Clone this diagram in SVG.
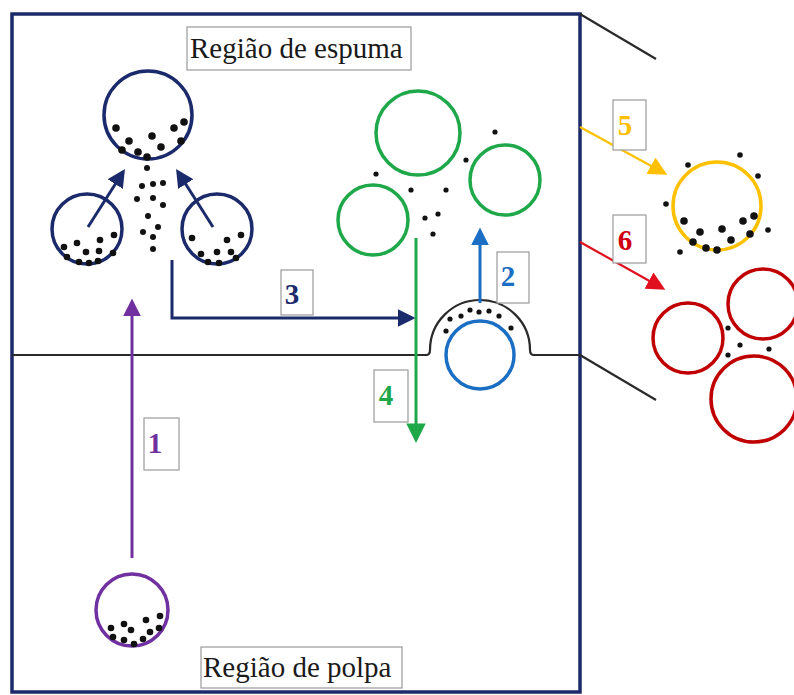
<svg xmlns="http://www.w3.org/2000/svg" width="794" height="695" viewBox="0 0 794 695">
  <style>
    .frame { fill: none; stroke: #1b2a6b; stroke-width: 3.5; }
    .line { fill: none; stroke: #2a2a2a; stroke-width: 2.2; }
    .bub { fill: none; stroke-width: 3.5; }
    .dot { fill: #111; }
    .lbl { fill: #fff; stroke: #9a9a9a; stroke-width: 1.2; }
    .title { font-family: "Liberation Serif", "Times New Roman", serif; font-size: 29px; fill: #1a1a1a; }
    .num { font-family: "Liberation Serif", "Times New Roman", serif; font-size: 29px; font-weight: bold; text-anchor: middle; }
    .arr { fill: none; stroke-width: 3; }
  </style>
  <defs>
    <marker id="hNavy" viewBox="0 0 10 10" refX="8" refY="5" markerWidth="6" markerHeight="6" orient="auto"><path d="M0,0 L10,5 L0,10 z" fill="#1b2a6b"/></marker>
    <marker id="hBlue" viewBox="0 0 10 10" refX="8" refY="5" markerWidth="6" markerHeight="6" orient="auto"><path d="M0,0 L10,5 L0,10 z" fill="#1a6fc4"/></marker>
    <marker id="hGreen" viewBox="0 0 10 10" refX="8" refY="5" markerWidth="6.5" markerHeight="6.5" orient="auto"><path d="M0,0 L10,5 L0,10 z" fill="#1fa84a"/></marker>
    <marker id="hPurple" viewBox="0 0 10 10" refX="8" refY="5" markerWidth="6" markerHeight="6" orient="auto"><path d="M0,0 L10,5 L0,10 z" fill="#7030a0"/></marker>
    <marker id="hGold" viewBox="0 0 10 10" refX="8" refY="5" markerWidth="8.5" markerHeight="8.5" orient="auto"><path d="M0,0 L10,5 L0,10 z" fill="#ffc000"/></marker>
    <marker id="hRed" viewBox="0 0 10 10" refX="8" refY="5" markerWidth="8.5" markerHeight="8.5" orient="auto"><path d="M0,0 L10,5 L0,10 z" fill="#e0101e"/></marker>
  </defs>

  <rect width="794" height="695" fill="#fff"/>

  <!-- cell frame, froth/pulp interface and zoom guides -->
  <g id="cell">
    <rect class="frame" x="12" y="14" width="568" height="678"/>
    <path class="line" d="M12,355 H426 Q430,355 430,350 A50,50 0 0 1 530,350 Q530,355 534,355 H580"/>
    <line class="line" x1="580" y1="14" x2="656" y2="59"/>
    <line class="line" x1="580" y1="355" x2="656" y2="400"/>
  </g>

  <g id="label-espuma">
    <rect class="lbl" x="187" y="27" width="224" height="43"/>
    <text class="title" x="190" y="58">Região de espuma</text>
  </g>
  <g id="label-polpa">
    <rect class="lbl" x="201" y="647" width="201" height="41"/>
    <text class="title" x="203" y="677">Região de polpa</text>
  </g>

  <!-- particle-laden bubble rising from pulp -->
  <g id="bubble-pulp">
    <circle class="bub" cx="132" cy="610" r="36" stroke="#7030a0"/>
    <g class="dot">
      <circle cx="111" cy="628" r="3.3"/><circle cx="124" cy="624" r="3.3"/><circle cx="131" cy="630" r="3.3"/>
      <circle cx="146" cy="620" r="3.3"/><circle cx="160" cy="616" r="3.3"/><circle cx="150" cy="632" r="3.3"/>
      <circle cx="113" cy="637" r="3.3"/><circle cx="124" cy="640" r="3.3"/><circle cx="134" cy="644" r="3.3"/>
      <circle cx="143" cy="639" r="3.3"/><circle cx="159" cy="628" r="3.3"/>
    </g>
  </g>

  <!-- coalescing bubbles in the froth -->
  <g id="bubbles-coalescence">
    <circle class="bub" cx="148" cy="115" r="44" stroke="#1b2a6b"/>
    <circle class="bub" cx="87" cy="229" r="35" stroke="#1b2a6b"/>
    <circle class="bub" cx="217" cy="229" r="35" stroke="#1b2a6b"/>
    <g class="dot">
      <circle cx="116" cy="128" r="3.8"/><circle cx="129" cy="141" r="3.8"/><circle cx="152" cy="136" r="3.8"/>
      <circle cx="174" cy="128" r="3.8"/><circle cx="184" cy="122" r="3.8"/><circle cx="181" cy="141" r="3.8"/>
      <circle cx="161" cy="147" r="3.8"/><circle cx="122" cy="150" r="3.8"/><circle cx="138" cy="152" r="3.8"/>
      <circle cx="147" cy="157" r="3.8"/>
      <circle cx="147" cy="168" r="3"/><circle cx="142" cy="186" r="3"/><circle cx="153" cy="184" r="3"/>
      <circle cx="163" cy="183" r="3"/><circle cx="137" cy="199" r="3"/><circle cx="153" cy="198" r="3"/>
      <circle cx="163" cy="205" r="3"/><circle cx="148" cy="216" r="3"/><circle cx="158" cy="227" r="3"/>
      <circle cx="143" cy="232" r="3"/><circle cx="153" cy="237" r="3"/><circle cx="153" cy="249" r="3"/>
      <circle cx="64" cy="247" r="3.3"/><circle cx="77" cy="243" r="3.3"/><circle cx="86" cy="252" r="3.3"/>
      <circle cx="100" cy="240" r="3.3"/><circle cx="114" cy="235" r="3.3"/><circle cx="99" cy="251" r="3.3"/>
      <circle cx="67" cy="257" r="3.3"/><circle cx="79" cy="262" r="3.3"/><circle cx="89" cy="263" r="3.3"/>
      <circle cx="98" cy="261" r="3.3"/><circle cx="113" cy="253" r="3.3"/>
      <circle cx="192" cy="238" r="3.3"/><circle cx="201" cy="254" r="3.3"/><circle cx="217" cy="252" r="3.3"/>
      <circle cx="227" cy="240" r="3.3"/><circle cx="241" cy="235" r="3.3"/><circle cx="231" cy="252" r="3.3"/>
      <circle cx="208" cy="262" r="3.3"/><circle cx="219" cy="263" r="3.3"/><circle cx="236" cy="258" r="3.3"/>
    </g>
  </g>

  <!-- bubbles after detachment -->
  <g id="bubbles-drained">
    <circle class="bub" cx="418" cy="133" r="42" stroke="#1fa84a"/>
    <circle class="bub" cx="505" cy="180" r="35" stroke="#1fa84a"/>
    <circle class="bub" cx="373" cy="220" r="35" stroke="#1fa84a"/>
    <g class="dot">
      <circle cx="495" cy="132" r="2.6"/><circle cx="466" cy="160" r="2.6"/><circle cx="376" cy="174" r="2.6"/>
      <circle cx="411" cy="190" r="2.6"/><circle cx="446" cy="190" r="2.6"/><circle cx="425" cy="218" r="2.6"/>
      <circle cx="438" cy="214" r="2.6"/><circle cx="433" cy="234" r="2.6"/>
    </g>
  </g>

  <!-- bubble entering the froth at the interface -->
  <g id="bubble-interface">
    <circle class="bub" cx="480" cy="355" r="34" stroke="#1a6fc4"/>
    <g class="dot">
      <circle cx="450" cy="319" r="2.6"/><circle cx="461" cy="316" r="2.6"/><circle cx="470" cy="310" r="2.6"/>
      <circle cx="479" cy="312" r="2.6"/><circle cx="489" cy="311" r="2.6"/><circle cx="499" cy="316" r="2.6"/>
      <circle cx="446" cy="331" r="2.6"/><circle cx="511" cy="328" r="2.6"/>
    </g>
  </g>

  <!-- overflow: loaded bubble -->
  <g id="bubble-concentrate">
    <circle class="bub" cx="717" cy="206" r="44" stroke="#ffc000"/>
    <g class="dot">
      <circle cx="688" cy="165" r="2.8"/><circle cx="740" cy="155" r="2.8"/><circle cx="758" cy="176" r="2.8"/>
      <circle cx="666" cy="204" r="2.8"/><circle cx="768" cy="230" r="2.8"/><circle cx="680" cy="252" r="2.8"/>
      <circle cx="684" cy="221" r="3.8"/><circle cx="700" cy="232" r="3.8"/><circle cx="693" cy="242" r="3.8"/>
      <circle cx="706" cy="248" r="3.8"/><circle cx="717" cy="250" r="3.8"/><circle cx="722" cy="229" r="3.8"/>
      <circle cx="731" cy="240" r="3.8"/><circle cx="743" cy="221" r="3.8"/><circle cx="754" cy="216" r="3.8"/>
      <circle cx="750" cy="234" r="3.8"/>
    </g>
  </g>

  <!-- overflow: barren bubbles -->
  <g id="bubbles-tailing">
    <circle class="bub" cx="688" cy="338" r="35" stroke="#c00000"/>
    <circle class="bub" cx="763" cy="304" r="35" stroke="#c00000"/>
    <circle class="bub" cx="754" cy="399" r="43" stroke="#c00000"/>
    <g class="dot">
      <circle cx="728" cy="328" r="2.6"/><circle cx="740" cy="345" r="2.6"/>
      <circle cx="728" cy="355" r="2.6"/><circle cx="769" cy="349" r="2.6"/>
    </g>
  </g>

  <!-- process arrows -->
  <g id="connectors">
    <line class="arr" x1="132" y1="558" x2="132" y2="302" stroke="#7030a0" marker-end="url(#hPurple)"/>
    <line class="arr" x1="480" y1="303" x2="480" y2="231" stroke="#1a6fc4" marker-end="url(#hBlue)"/>
    <polyline class="arr" points="172,260 172,318 412,318" stroke="#1b2a6b" marker-end="url(#hNavy)"/>
    <line class="arr" x1="416" y1="238" x2="416" y2="439" stroke="#1fa84a" marker-end="url(#hGreen)"/>
    <line class="arr" x1="88" y1="227" x2="123" y2="172" stroke="#1b2a6b" marker-end="url(#hNavy)"/>
    <line class="arr" x1="213" y1="227" x2="178" y2="172" stroke="#1b2a6b" marker-end="url(#hNavy)"/>
    <line x1="580" y1="127" x2="664" y2="173" stroke="#ffc000" stroke-width="2.2" marker-end="url(#hGold)"/>
    <line x1="580" y1="242" x2="662" y2="288" stroke="#e0101e" stroke-width="2.2" marker-end="url(#hRed)"/>
  </g>

  <!-- step numbers -->
  <g id="step-1"><rect class="lbl" x="144" y="418" width="35" height="52"/><text class="num" x="155" y="453" fill="#7030a0">1</text></g>
  <g id="step-2"><rect class="lbl" x="497" y="252" width="32" height="51"/><text class="num" x="508" y="286" fill="#1a6fc4">2</text></g>
  <g id="step-3"><rect class="lbl" x="281" y="270" width="32" height="45"/><text class="num" x="292" y="304" fill="#1b2a6b">3</text></g>
  <g id="step-4"><rect class="lbl" x="374" y="370" width="34" height="52"/><text class="num" x="386" y="405" fill="#1fa84a">4</text></g>
  <g id="step-5"><rect class="lbl" x="613" y="100" width="33" height="50"/><text class="num" x="625" y="135" fill="#ffc000">5</text></g>
  <g id="step-6"><rect class="lbl" x="613" y="215" width="33" height="48"/><text class="num" x="625" y="250" fill="#d00010">6</text></g>
</svg>
